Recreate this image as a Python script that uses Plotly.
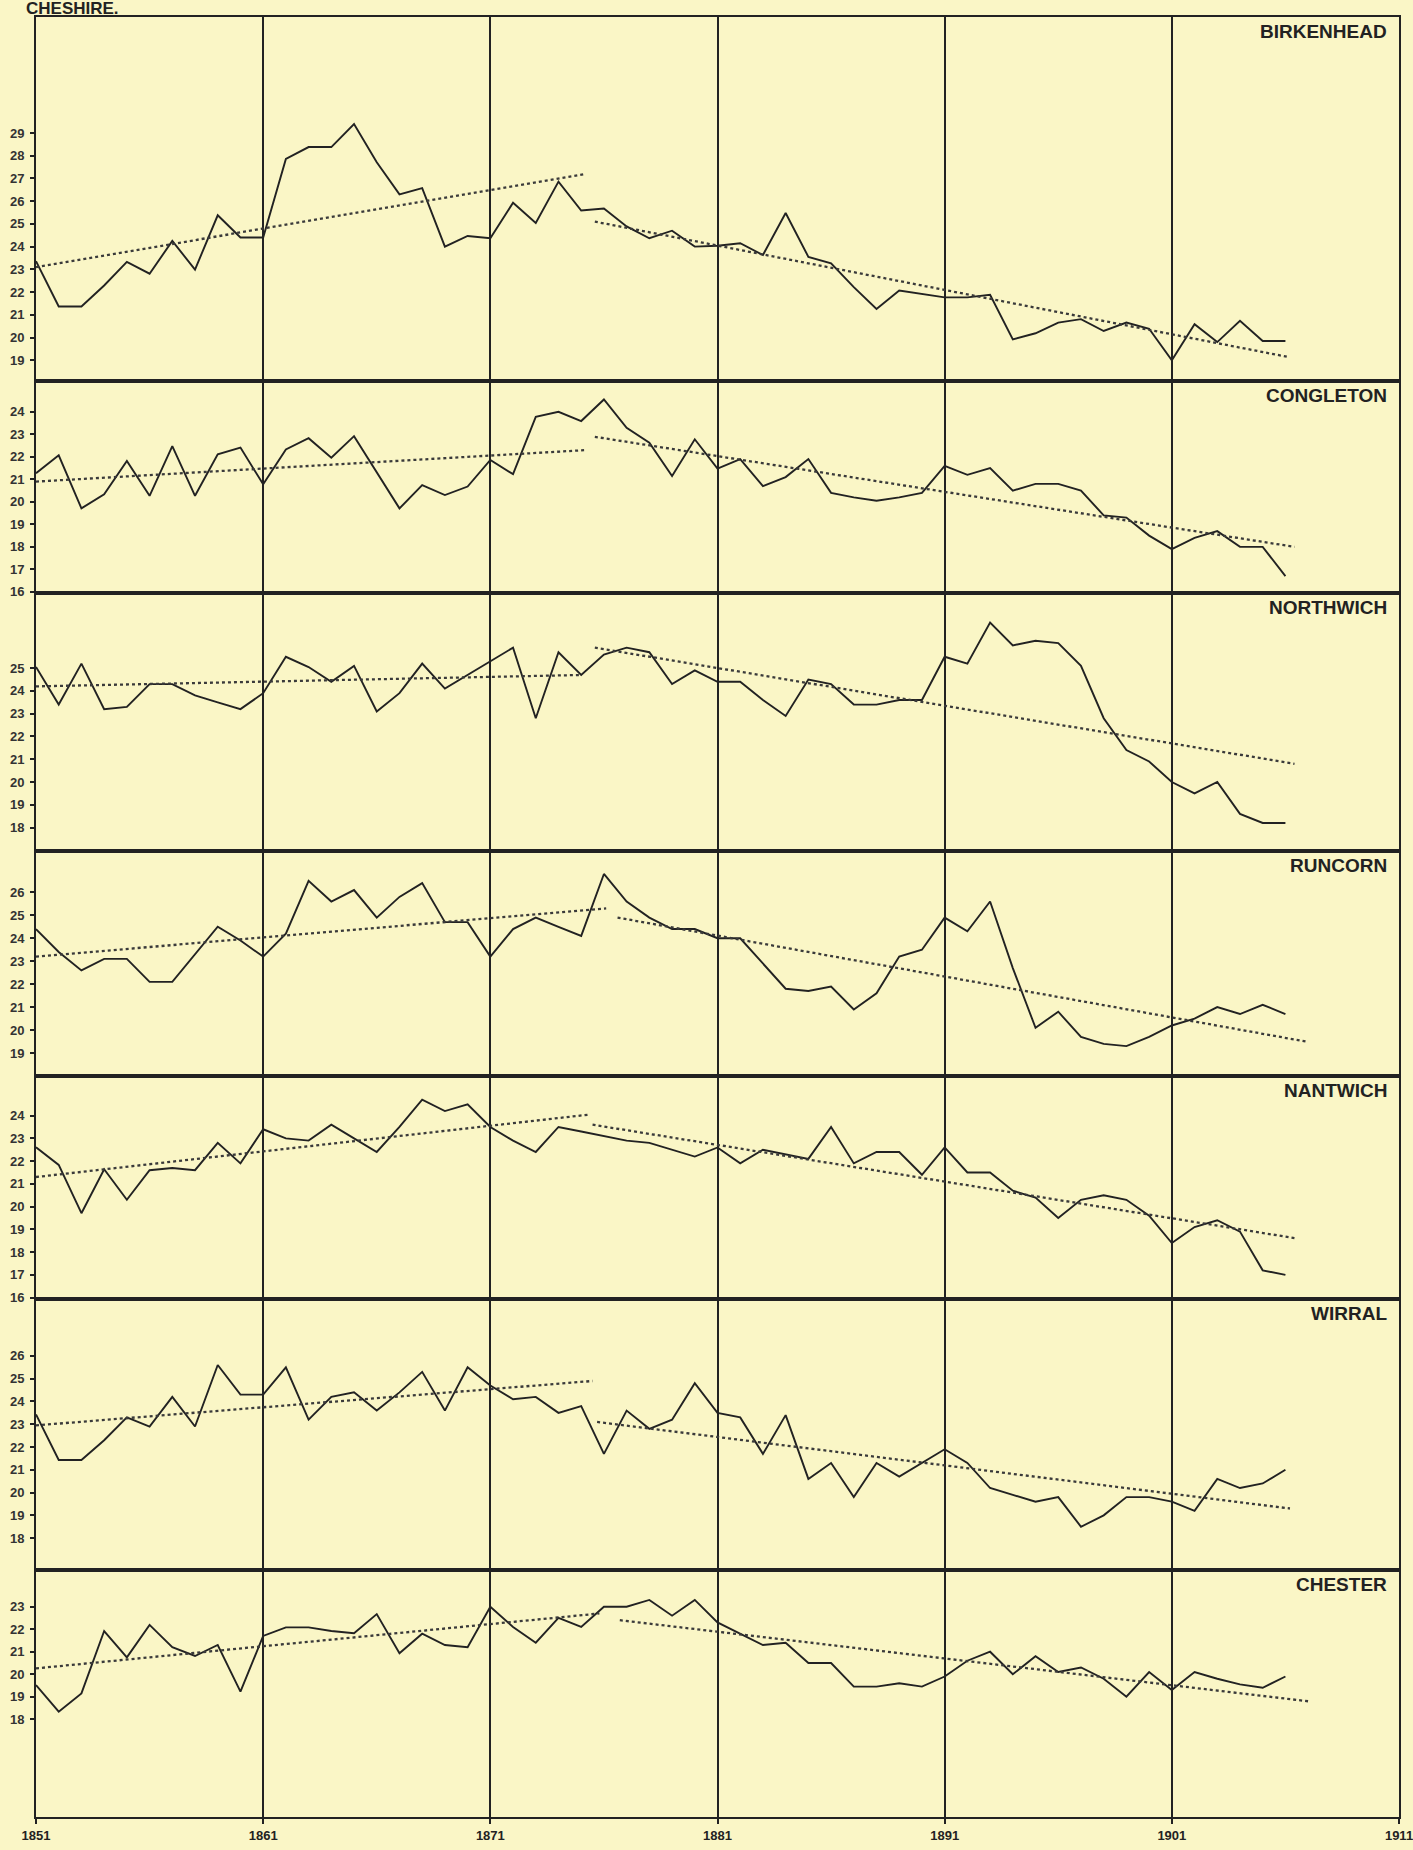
import plotly.graph_objects as go

# ---------------- data ----------------
years = list(range(1851, 1907))
decade_ticks = [1851, 1861, 1871, 1881, 1891, 1901, 1911]

towns = ["BIRKENHEAD", "CONGLETON", "NORTHWICH", "RUNCORN", "NANTWICH", "WIRRAL", "CHESTER"]

birkenhead = [23.36, 21.37, 21.37, 22.29, 23.33, 22.81, 24.25, 22.99, 25.38, 24.40,
              24.40, 27.86, 28.38, 28.38, 29.39, 27.71, 26.30, 26.57, 24.00, 24.47,
              24.37, 25.93, 25.04, 26.86, 25.59, 25.68, 24.89, 24.37, 24.70, 24.00,
              24.04, 24.15, 23.63, 25.48, 23.55, 23.26, 22.22, 21.26, 22.07, 21.92,
              21.77, 21.77, 21.88, 19.92, 20.19, 20.66, 20.81, 20.29, 20.66, 20.39,
              19.00, 20.59, 19.80, 20.74, 19.85, 19.85]
congleton = [21.27, 22.07, 19.71, 20.34, 21.82, 20.27, 22.48, 20.27, 22.11, 22.41,
             20.78, 22.33, 22.83, 21.96, 22.92, 21.30, 19.71, 20.74, 20.30, 20.68,
             21.86, 21.23, 23.78, 24.00, 23.59, 24.55, 23.29, 22.63, 21.15, 22.78,
             21.48, 21.90, 20.70, 21.10, 21.90, 20.40, 20.20, 20.05, 20.20, 20.40,
             21.60, 21.20, 21.50, 20.50, 20.80, 20.80, 20.50, 19.40, 19.30, 18.50,
             17.90, 18.40, 18.70, 18.00, 18.00, 16.70]
northwich = [25.05, 23.40, 25.20, 23.20, 23.30, 24.30, 24.30, 23.80, 23.50, 23.20,
             23.90, 25.50, 25.05, 24.40, 25.10, 23.10, 23.90, 25.20, 24.10, 24.70,
             25.30, 25.90, 22.80, 25.70, 24.70, 25.60, 25.90, 25.70, 24.30, 24.90,
             24.40, 24.40, 23.60, 22.90, 24.50, 24.30, 23.40, 23.40, 23.60, 23.60,
             25.50, 25.20, 27.00, 26.00, 26.20, 26.10, 25.10, 22.80, 21.40, 20.90,
             20.00, 19.50, 20.00, 18.60, 18.20, 18.20]
runcorn = [24.40, 23.40, 22.60, 23.10, 23.10, 22.10, 22.10, 23.30, 24.50, 23.90,
           23.20, 24.20, 26.50, 25.60, 26.10, 24.90, 25.80, 26.40, 24.70, 24.70,
           23.20, 24.40, 24.90, 24.50, 24.10, 26.80, 25.60, 24.90, 24.40, 24.40,
           24.00, 24.00, 22.90, 21.80, 21.70, 21.90, 20.90, 21.60, 23.20, 23.50,
           24.90, 24.30, 25.60, 22.70, 20.10, 20.80, 19.70, 19.40, 19.30, 19.70,
           20.20, 20.50, 21.00, 20.70, 21.10, 20.70]
nantwich = [22.61, 21.83, 19.71, 21.64, 20.30, 21.60, 21.70, 21.60, 22.80, 21.90,
            23.40, 23.00, 22.90, 23.60, 23.00, 22.40, 23.50, 24.70, 24.20, 24.50,
            23.50, 22.90, 22.40, 23.50, 23.30, 23.10, 22.90, 22.80, 22.50, 22.20,
            22.60, 21.90, 22.50, 22.30, 22.10, 23.50, 21.90, 22.40, 22.40, 21.40,
            22.60, 21.50, 21.50, 20.70, 20.40, 19.50, 20.30, 20.50, 20.30, 19.60,
            18.40, 19.10, 19.40, 18.90, 17.20, 17.00]
wirral = [23.43, 21.43, 21.43, 22.30, 23.30, 22.90, 24.20, 22.90, 25.60, 24.30,
          24.30, 25.50, 23.20, 24.20, 24.40, 23.60, 24.40, 25.30, 23.60, 25.50,
          24.70, 24.10, 24.20, 23.50, 23.80, 21.70, 23.60, 22.80, 23.20, 24.80,
          23.50, 23.30, 21.70, 23.40, 20.60, 21.30, 19.80, 21.30, 20.70, 21.30,
          21.90, 21.30, 20.20, 19.90, 19.60, 19.80, 18.50, 19.00, 19.80, 19.80,
          19.60, 19.20, 20.60, 20.20, 20.40, 21.00]
chester = [19.52, 18.34, 19.15, 21.92, 20.75, 22.19, 21.20, 20.81, 21.30, 19.23,
           21.70, 22.08, 22.08, 21.92, 21.82, 22.67, 20.93, 21.80, 21.30, 21.20,
           23.00, 22.10, 21.40, 22.50, 22.10, 23.00, 23.00, 23.30, 22.60, 23.30,
           22.30, 21.80, 21.30, 21.40, 20.50, 20.50, 19.45, 19.45, 19.60, 19.45,
           19.90, 20.60, 21.00, 20.00, 20.80, 20.10, 20.30, 19.80, 19.00, 20.10,
           19.30, 20.10, 19.80, 19.55, 19.40, 19.90]

# trend lines: (x_start, x_end) and (y_start, y_end) for early and late period
early_trend_x = [[1851, 1875.2], [1851, 1875.2], [1851, 1875.0], [1851, 1876.1],
                 [1851, 1875.4], [1851, 1875.5], [1851, 1875.8]]
early_trend_y = [[23.1, 27.2], [20.9, 22.3], [24.2, 24.7], [23.2, 25.3],
                 [21.3, 24.05], [22.95, 24.9], [20.26, 22.7]]
late_trend_x = [[1875.6, 1906.1], [1875.6, 1906.4], [1875.6, 1906.4], [1876.6, 1906.9],
                [1875.5, 1906.5], [1875.7, 1906.2], [1876.7, 1907.0]]
late_trend_y = [[25.1, 19.15], [22.89, 18.0], [25.9, 20.8], [24.9, 19.5],
                [23.6, 18.6], [23.1, 19.3], [22.4, 18.8]]

y_tickvals = [list(range(19, 30)), list(range(16, 25)), list(range(18, 26)),
              list(range(19, 27)), list(range(16, 25)), list(range(18, 27)),
              list(range(18, 24))]

series = [birkenhead, congleton, northwich, runcorn, nantwich, wirral, chester]

# ---------------- layout ----------------
W, H = 1413, 1850
M_L, M_R, M_T, M_B = 36, 14, 17, 33
plot_h = H - M_T - M_B
panel_edges = [17, 381, 593, 851, 1076, 1299, 1570, 1817]
y_ranges = [[18.09, 34.1], [15.95, 25.37], [16.97, 28.3], [18.0, 27.8],
            [15.94, 25.74], [16.6, 28.5], [13.66, 24.63]]

BG = "#FAF6C6"
INK = "#222222"

fig = go.Figure()
layout = dict(
    width=W, height=H,
    margin=dict(l=M_L, r=M_R, t=M_T, b=M_B, pad=0, autoexpand=False),
    paper_bgcolor=BG, plot_bgcolor=BG,
    showlegend=False,
)

def frac(p):
    return 1 - (p - M_T) / plot_h

annotations = []
n = len(towns)
for i in range(n):
    k = "" if i == 0 else str(i + 1)
    xa, ya = "x" + k, "y" + k
    last = (i == n - 1)
    layout["xaxis" + k] = dict(
        domain=[0, 1], anchor=ya, range=[1851, 1911],
        tickvals=decade_ticks, ticktext=[str(t) for t in decade_ticks],
        showgrid=True, gridcolor=INK, gridwidth=1.6,
        showline=True, mirror=True, linecolor=INK, linewidth=2,
        zeroline=False, showticklabels=last,
        ticks="outside" if last else "", ticklen=5, tickcolor=INK, tickwidth=1.5,
        tickfont=dict(family="Liberation Sans", size=13, color=INK, weight="bold"),
        ticklabeloverflow="allow", automargin=False,
        fixedrange=True,
    )
    layout["yaxis" + k] = dict(
        domain=[frac(panel_edges[i + 1]), frac(panel_edges[i])], anchor=xa,
        range=y_ranges[i], tickvals=y_tickvals[i],
        ticktext=[str(v) for v in y_tickvals[i]],
        showgrid=False, zeroline=False,
        showline=True, mirror=True, linecolor=INK, linewidth=2,
        ticks="outside", ticklen=4, tickcolor=INK, tickwidth=1.5,
        tickfont=dict(family="Liberation Sans Narrow, Liberation Sans", size=13,
                      color="#333333", weight="bold"),
        ticklabelstandoff=3, automargin=False,
        fixedrange=True,
    )
    # main series
    fig.add_trace(go.Scatter(x=years, y=series[i], mode="lines",
                             line=dict(color=INK, width=1.9),
                             xaxis=xa, yaxis=ya))
    # trend lines
    fig.add_trace(go.Scatter(x=early_trend_x[i], y=early_trend_y[i], mode="lines",
                             line=dict(color="#3a3a3a", width=2.3, dash="dot"),
                             xaxis=xa, yaxis=ya))
    fig.add_trace(go.Scatter(x=late_trend_x[i], y=late_trend_y[i], mode="lines",
                             line=dict(color="#3a3a3a", width=2.3, dash="dot"),
                             xaxis=xa, yaxis=ya))
    annotations.append(dict(
        text=towns[i], xref="paper", yref=ya + " domain",
        x=1, y=1, xanchor="right", yanchor="top", xshift=-10, yshift=-2,
        showarrow=False,
        font=dict(family="Liberation Sans", size=19, color=INK, weight="bold"),
    ))

# title sits in the thin strip above the frame
annotations.append(dict(
    text="CHESHIRE.", xref="paper", yref="paper",
    x=(24 - M_L) / (W - M_L - M_R), y=1 + (M_T - 8) / plot_h,
    xanchor="left", yanchor="middle", showarrow=False,
    font=dict(family="Liberation Sans", size=17, color=INK, weight="bold"),
))
layout["annotations"] = annotations

fig.update_layout(**layout)
fig.write_html("out.html")
